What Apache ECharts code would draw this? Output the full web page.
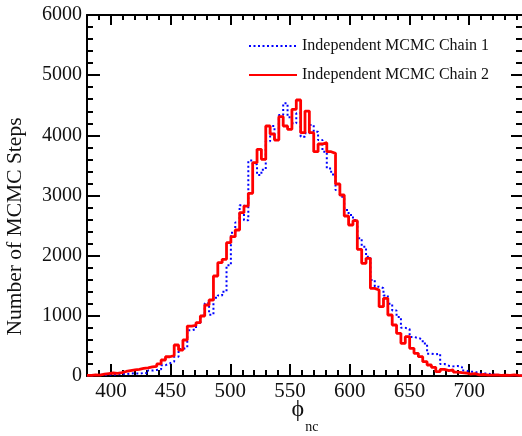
<!DOCTYPE html>
<html>
<head>
<meta charset="utf-8">
<script src="https://cdn.jsdelivr.net/npm/echarts@6/dist/echarts.min.js"></script>
<style>
  html, body { margin: 0; padding: 0; background: #fff; }
  #chart { width: 522px; height: 436px; }
</style>
</head>
<body>
<div id="chart"></div>
<script>
// Histogram binning of phi_nc: 100 equal bins from 380 to 745
const binStart = 380;
const binEnd = 745;
const binCount = 100;

// Counts per bin for the two chains
const chain1Counts = [
  10, 15, 20, 15, 25, 20, 30, 35, 30, 40,
  45, 40, 50, 45, 90, 100, 110, 180, 210, 240,
  320, 450, 470, 760, 780, 880, 1000, 1210, 1020, 1300,
  1340, 1400, 1840, 2380, 2550, 2840, 2590, 3580, 3520, 3340,
  3430, 3900, 4155, 3922, 4338, 4532, 4300, 4199, 4365, 3978,
  4033, 4172, 4061, 3922, 3728, 3450, 3350, 3091, 2980, 2759,
  2676, 2593, 2288, 2149, 1983, 1596, 1485, 1460, 1340, 1200,
  1090, 980, 800, 780, 650, 630, 610, 540, 370, 360,
  370, 200, 170, 160, 165, 150, 90, 70, 70, 45,
  40, 40, 25, 20, 15, 20, 10, 15, 10, 5
];
const chain2Counts = [
  10, 20, 15, 30, 40, 50, 45, 55, 75, 90,
  100, 110, 125, 135, 150, 160, 200, 266, 320, 340,
  515, 432, 598, 830, 840, 886, 997, 1180, 1263, 1662,
  1883, 1939, 2216, 2316, 2427, 2714, 2825, 3036, 3545, 3767,
  3601, 4155, 4022, 3922, 4310, 4155, 4100, 4432, 4587, 4044,
  4404, 4044, 3728, 3856, 3878, 3728, 3701, 3191, 3008, 2659,
  2510, 2581, 2106, 1873, 1956, 1457, 1429, 1152, 1291, 1014,
  848, 709, 543, 654, 460, 377, 321, 238, 183, 144,
  72, 111, 89, 100, 66, 55, 50, 30, 40, 20,
  25, 15, 15, 20, 10, 15, 10, 20, 10, 5
];

const seriesNames = ['Independent MCMC Chain 1', 'Independent MCMC Chain 2'];
const yTicks = { min: 0, max: 6000, interval: 1000 };

// Turn counts into step points at bin low edges, closing at the last upper edge
function toSteps(counts) {
  const w = (binEnd - binStart) / binCount;
  const pts = counts.map((c, i) => [binStart + i * w, c]);
  pts.push([binEnd, counts[counts.length - 1]]);
  return pts;
}

const serif = 'Liberation Serif, Times New Roman, serif';
const chart = echarts.init(document.getElementById('chart'), null, { renderer: 'canvas' });

const frameLine = { show: true, onZero: false, lineStyle: { color: '#000', width: 2 } };
const plain = v => String(v);

chart.setOption({
  animation: false,
  backgroundColor: '#fff',
  grid: { left: 87, top: 15, right: -1, bottom: 60, containLabel: false, outerBoundsMode: 'none' },
  legend: {
    orient: 'vertical',
    left: 243,
    top: 31,
    itemWidth: 48,
    itemHeight: 14,
    itemGap: 9,
    itemStyle: { opacity: 0 },
    textStyle: {
      fontFamily: serif, fontSize: 16, color: '#111',
      lineHeight: 20
    },
    data: seriesNames
  },
  xAxis: [
    {
      type: 'value', position: 'bottom', min: binStart, max: binEnd, splitNumber: 7,
      axisLine: frameLine,
      axisTick: { show: true, inside: true, length: 12, lineStyle: { color: '#000', width: 2 } },
      minorTick: { show: true, splitNumber: 5, length: 6, lineStyle: { color: '#000', width: 2 } },
      splitLine: { show: false },
      axisLabel: {
        show: true, showMinLabel: false, showMaxLabel: false, margin: 5,
        fontFamily: serif, fontSize: 21, color: '#111', formatter: plain
      },
      name: '{phi|ϕ}{sub|nc}',
      nameLocation: 'middle',
      nameGap: 22,
      nameMoveOverlap: false,
      nameTextStyle: {
        rich: {
          phi: { fontFamily: serif, fontSize: 24, lineHeight: 24, color: '#111' },
          sub: { fontFamily: serif, fontSize: 14, lineHeight: 14, color: '#111', padding: [34, 0, 0, 1] }
        }
      }
    },
    {
      type: 'value', position: 'top', min: binStart, max: binEnd, splitNumber: 7,
      axisLine: frameLine,
      axisTick: { show: true, inside: true, length: 10, lineStyle: { color: '#000', width: 2 } },
      minorTick: { show: true, splitNumber: 5, length: 5, lineStyle: { color: '#000', width: 2 } },
      splitLine: { show: false },
      axisLabel: { show: false }
    }
  ],
  yAxis: [
    {
      type: 'value', position: 'left', min: yTicks.min, max: yTicks.max, interval: yTicks.interval,
      axisLine: frameLine,
      axisTick: { show: true, inside: true, length: 13, lineStyle: { color: '#000', width: 2 } },
      minorTick: { show: true, splitNumber: 5, length: 6, lineStyle: { color: '#000', width: 2 } },
      splitLine: { show: false },
      axisLabel: { show: true, margin: 5, fontFamily: serif, fontSize: 20, color: '#111', formatter: plain },
      name: 'Number of MCMC Steps',
      nameLocation: 'middle',
      nameGap: 61,
      nameMoveOverlap: false,
      nameTextStyle: { fontFamily: serif, fontSize: 21.5, color: '#111', padding: [0, 62, 0, 0] }
    },
    {
      type: 'value', position: 'right', min: yTicks.min, max: yTicks.max, interval: yTicks.interval,
      axisLine: frameLine,
      axisTick: { show: true, inside: true, length: 12, lineStyle: { color: '#000', width: 2 } },
      minorTick: { show: true, splitNumber: 5, length: 7, lineStyle: { color: '#000', width: 2 } },
      splitLine: { show: false },
      axisLabel: { show: false }
    }
  ],
  series: [
    {
      name: seriesNames[0],
      type: 'line',
      step: 'end',
      xAxisIndex: 0, yAxisIndex: 0,
      symbol: 'none',
      data: toSteps(chain1Counts),
      color: '#0000ff',
      lineStyle: { color: '#0000ff', width: 2, type: [2, 2.5] },
      clip: true
    },
    {
      name: seriesNames[1],
      type: 'line',
      step: 'end',
      xAxisIndex: 0, yAxisIndex: 0,
      symbol: 'none',
      data: toSteps(chain2Counts),
      color: '#ff0000',
      lineStyle: { color: '#ff0000', width: 2.8 },
      clip: true
    }
  ]
});
</script>
</body>
</html>
